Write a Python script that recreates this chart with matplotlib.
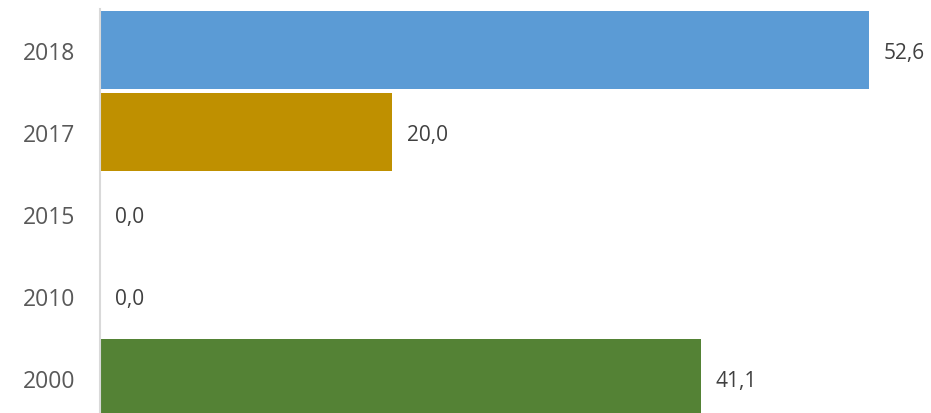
import matplotlib
matplotlib.use('Agg')
import matplotlib.pyplot as plt

"""data"""
years = ['2000', '2010', '2015', '2017', '2018']
values = [41.1, 0.0, 0.0, 20.0, 52.6]
colors = ['#548235', '#A5A5A5', '#FFC000', '#BF9000', '#5B9BD5']

plt.rcParams['font.family'] = ['Open Sans', 'DejaVu Sans']

fig = plt.figure(figsize=(9.31, 4.14), dpi=100)
# plot area runs a bit below the bottom edge, like the original
ax = fig.add_axes([100/931, -6/414, 831/931, 410/414])

ypos = list(range(len(years)))
ax.barh(ypos, values, height=0.95, color=colors)

for y, v in zip(ypos, values):
    ax.annotate(('%.1f' % v).replace('.', ','), xy=(v, y), xytext=(10.5, -2),
                textcoords='offset points', ha='left', va='center',
                fontsize=15, color='#404040')

ax.set_xlim(0, 831/14.62)
ax.set_ylim(-0.5, 4.5)
ax.set_yticks(ypos)
ax.set_yticklabels(years, fontsize=16.5, color='#595959')
ax.tick_params(axis='y', length=0, pad=18)
ax.set_xticks([])

for s in ['top', 'right', 'bottom']:
    ax.spines[s].set_visible(False)
ax.spines['left'].set_color('#D9D9D9')
ax.spines['left'].set_linewidth(1.5)

plt.savefig('out.png', dpi=100)
